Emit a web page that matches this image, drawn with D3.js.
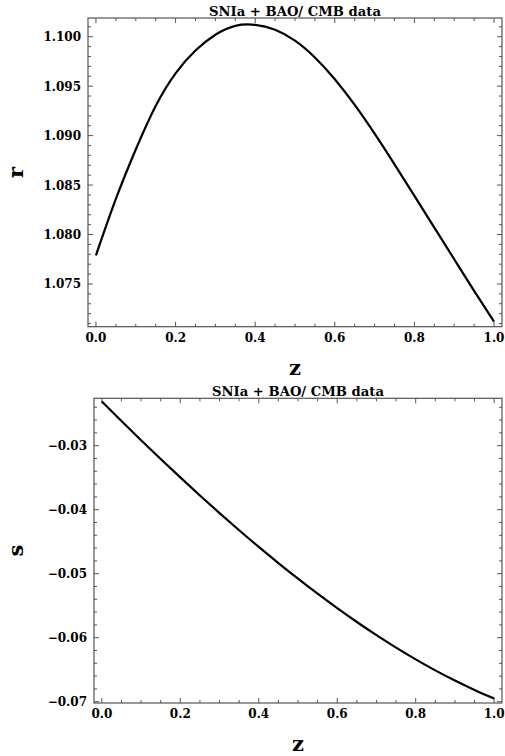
<!DOCTYPE html>
<html><head><meta charset="utf-8">
<script src="https://cdn.jsdelivr.net/npm/d3@7"></script>
<style>
html,body{margin:0;padding:0;background:#fff;}
svg{display:block;}
text{font-family:"DejaVu Serif",serif;font-weight:bold;fill:#000;}
</style></head>
<body>
<svg id="chart" width="505" height="756"></svg>
<script>
// ---- data ----
const zVals = [0,0.05,0.1,0.15,0.2,0.25,0.3,0.35,0.4,0.45,0.5,0.55,0.6,0.65,0.7,0.75,0.8,0.85,0.9,0.95,1.0];
const rVals = [1.0779,1.0836,1.0886,1.0930,1.0963,1.0986,1.1002,1.1011,1.1012,1.1007,1.0996,1.0979,1.0957,1.0931,1.0902,1.0871,1.0839,1.0807,1.0775,1.0743,1.0712];
const sVals = [-0.0231,-0.02614,-0.02914,-0.03208,-0.03496,-0.03778,-0.04053,-0.04321,-0.04582,-0.04834,-0.05078,-0.05313,-0.05539,-0.05755,-0.0596,-0.06155,-0.06338,-0.0651,-0.06669,-0.06816,-0.0695];
const xTicks = [0,0.2,0.4,0.6,0.8,1.0];
const xTickLabels = ["0.0","0.2","0.4","0.6","0.8","1.0"];
const rTicks = [1.075,1.080,1.085,1.090,1.095,1.100];
const rTickLabels = ["1.075","1.080","1.085","1.090","1.095","1.100"];
const sTicks = [-0.07,-0.06,-0.05,-0.04,-0.03];
const sTickLabels = ["\u22120.07","\u22120.06","\u22120.05","\u22120.04","\u22120.03"];
const titleText = "SNIa + BAO/ CMB data";

const svg = d3.select("#chart");

function panel(opts){
  const g = svg.append("g");
  const x = d3.scaleLinear().domain([-0.02,1.02]).range([opts.left,opts.right]);
  const y = d3.scaleLinear().domain(opts.ydom).range([opts.bottom,opts.top]);
  const frameColor = "#555";
  g.append("rect").attr("x",opts.left).attr("y",opts.top)
   .attr("width",opts.right-opts.left).attr("height",opts.bottom-opts.top)
   .attr("fill","none").attr("stroke",frameColor).attr("stroke-width",1.2);
  const xMinor = d3.range(0,1.0001,0.05);
  const tg = g.append("g").attr("stroke",frameColor).attr("stroke-width",1);
  xMinor.forEach(v=>{
    const major = Math.abs(v/0.2 - Math.round(v/0.2))<1e-6;
    const L = major?5:3;
    const px = x(v);
    tg.append("line").attr("x1",px).attr("x2",px).attr("y1",opts.bottom).attr("y2",opts.bottom-L);
    tg.append("line").attr("x1",px).attr("x2",px).attr("y1",opts.top).attr("y2",opts.top+L);
  });
  const [y0,y1] = opts.ydom;
  const yMinorStart = Math.ceil(y0/opts.minor-1e-9)*opts.minor;
  for(let v=yMinorStart; v<=y1+1e-12; v+=opts.minor){
    const major = Math.abs(v/opts.major - Math.round(v/opts.major))<1e-6;
    const L = major?5:3;
    const py = y(v);
    tg.append("line").attr("y1",py).attr("y2",py).attr("x1",opts.left).attr("x2",opts.left+L);
    tg.append("line").attr("y1",py).attr("y2",py).attr("x1",opts.right).attr("x2",opts.right-L);
  }
  g.selectAll(".xl").data(xTicks).enter().append("text")
   .attr("x",d=>x(d)).attr("y",opts.bottom+15).attr("text-anchor","middle")
   .attr("font-size",12).text((d,i)=>xTickLabels[i]);
  g.selectAll(".yl").data(opts.yticks).enter().append("text")
   .attr("x",opts.left-7).attr("y",d=>y(d)+4.5).attr("text-anchor","end")
   .attr("font-size",12).text((d,i)=>opts.ylabels[i]);
  const cx = (opts.left+opts.right)/2;
  g.append("text").attr("x",cx-86).attr("y",opts.top-2)
   .attr("font-size",12).attr("textLength",172).attr("lengthAdjust","spacingAndGlyphs").text(titleText);
  g.append("text").attr("x",cx).attr("y",opts.bottom+48)
   .attr("text-anchor","middle").attr("font-size",21).text("z");
  g.append("text").attr("transform",`translate(${opts.ylabX},${(opts.top+opts.bottom)/2}) rotate(-90)`)
   .attr("text-anchor","middle").attr("font-size",21).text(opts.ylab);
  const line = d3.line().x(d=>x(d[0])).y(d=>y(d[1])).curve(d3.curveNatural);
  g.append("path").datum(zVals.map((z,i)=>[z,opts.vals[i]]))
   .attr("d",line).attr("fill","none").attr("stroke","#000").attr("stroke-width",2.2);
}

panel({left:88,right:502,top:18,bottom:326.7,ydom:[1.07068,1.10189],
  major:0.005,minor:0.001,yticks:rTicks,ylabels:rTickLabels,vals:rVals,ylab:"r",ylabX:23});
panel({left:94,right:502,top:398.3,bottom:703,ydom:[-0.0702,-0.0226],
  major:0.01,minor:0.002,yticks:sTicks,ylabels:sTickLabels,vals:sVals,ylab:"s",ylabX:23});
</script>
</body></html>
